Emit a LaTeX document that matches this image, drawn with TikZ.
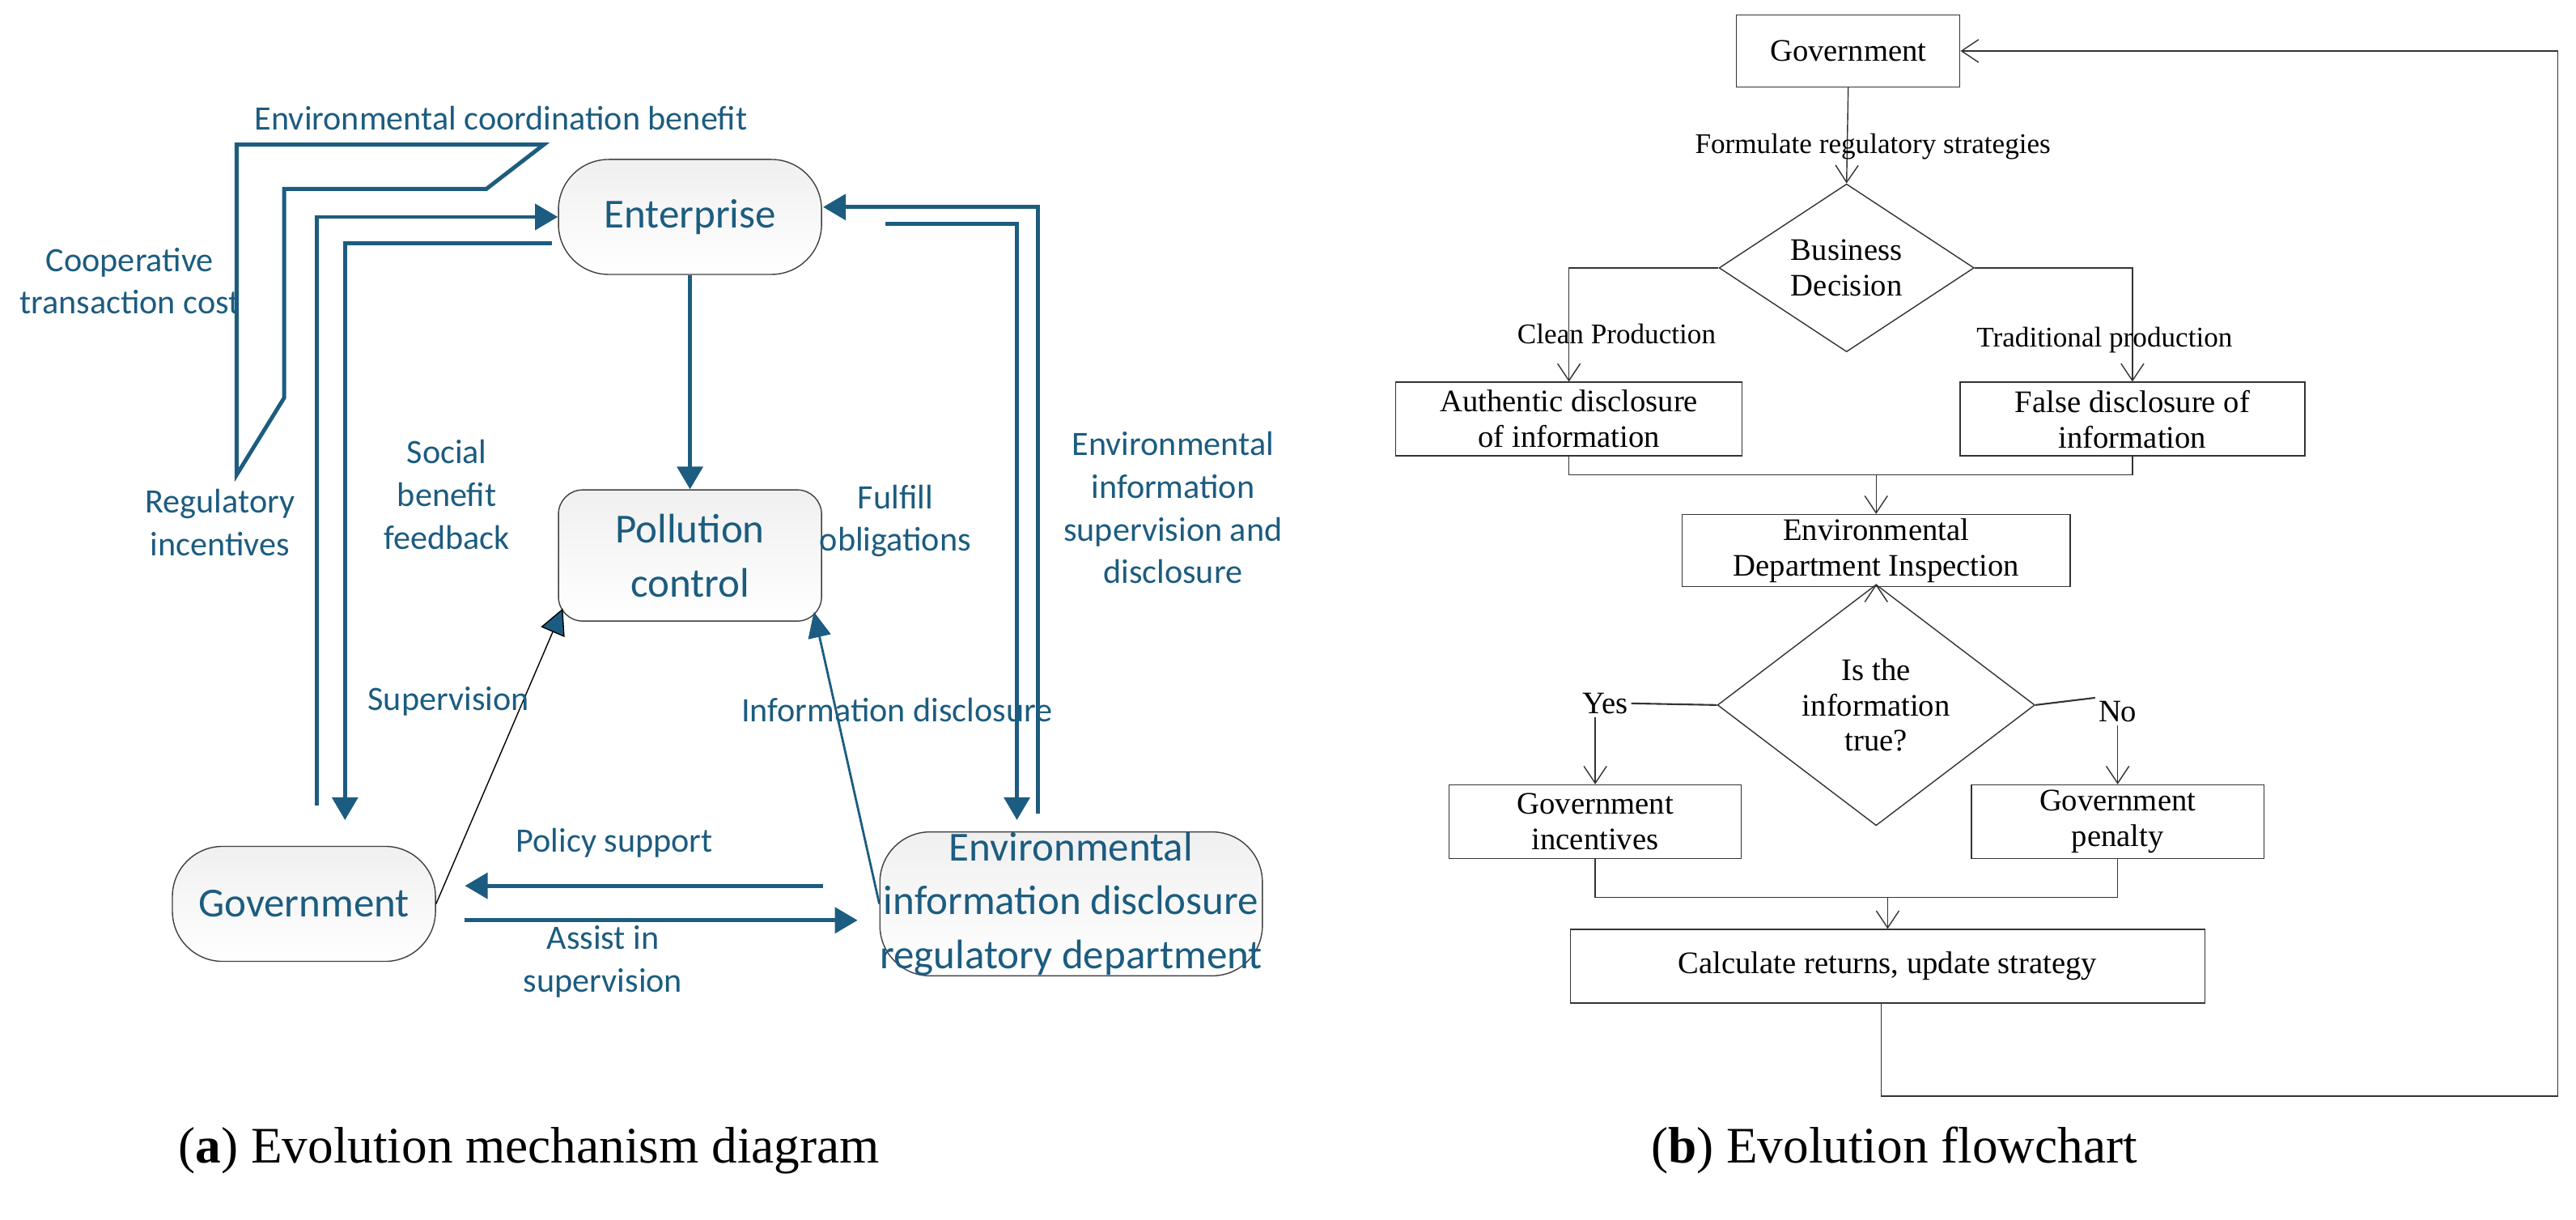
\documentclass[tikz,border=0pt]{standalone}
\usepackage{fontspec}
\setmainfont{Liberation Serif}
\newfontfamily\calfnt{Carlito}
\usetikzlibrary{shapes.geometric,arrows.meta,calc}
\definecolor{tealb}{RGB}{28,92,128}
\begin{document}
\begin{tikzpicture}[x=0.0203cm,y=-0.0203cm,
  anode/.style={draw=black!75,thin,top color=gray!12,bottom color=white,align=center,font=\calfnt\fontsize{14.5}{19}\selectfont,text=tealb,inner sep=0pt},
  stad/.style={anode,rounded corners=0.62cm,minimum height=1.42cm},
  alab/.style={font=\calfnt\fontsize{12}{15}\selectfont,text=tealb,align=center,inner sep=1pt},
  aline/.style={draw=tealb,line width=1.4pt},
  aarr/.style={aline,-{Triangle[length=8pt,width=9pt]}},
  bbox/.style={draw=black!80,thin,align=center,font=\fontsize{11}{12.5}\selectfont,inner sep=0pt,minimum height=0.91cm},
  bdia/.style={draw=black!80,thin,diamond,align=center,font=\fontsize{11}{12.5}\selectfont,inner sep=0pt},
  blab/.style={font=\fontsize{10}{12}\selectfont,inner sep=1pt},
  bline/.style={draw=black!80,thin},
  barr/.style={bline,-{Straight Barb[length=6pt,width=8pt]}},
  captxt/.style={font=\fontsize{18}{22}\selectfont}
]
\useasboundingbox (0,0) rectangle (1568,742);
% ---------------- panel a ----------------
\node[stad,minimum width=3.25cm] (en) at (420,132) {Enterprise};
\node[anode,rounded corners=0.3cm,minimum width=3.25cm,minimum height=1.62cm] (pc) at (420,338) {Pollution\\control};
\node[stad,minimum width=3.25cm] (go) at (185,550) {Government};
\node[stad,minimum width=4.36cm] (ed) at (652,550) {Environmental\\information disclosure\\regulatory department};

% big bent outline
\draw[aline] (144,289) -- (144,88) -- (331,88) -- (296,115) -- (173,115) -- (173,242) -- cycle;

\coordinate (l1) at (193,490);
\coordinate (l2) at (210,499);
\coordinate (l2s) at (336,148);
\draw[aarr] (l1) |- (en.west);
\draw[aarr] (l2s) -| (l2);
\draw[aarr] (en.south) -- (pc.north);

\coordinate (r1) at (632,495);
\coordinate (r1e) at (501,126);
\coordinate (r2s) at (539,136);
\coordinate (r2) at (619,499);
\draw[aarr] (r1) |- (r1e);
\draw[aarr] (r2s) -| (r2);

\draw[black,thin,-{Triangle[length=9pt,width=9pt,fill=tealb]}] (go.east) -- ($(pc.south west)+(3,-8)$);
\draw[draw=tealb,thick,-{Triangle[length=9pt,width=8pt]}] (ed.west) -- ($(pc.south east)+(-5,-6)$);

\coordinate (p1) at (501,539);
\coordinate (p2) at (283,539);
\coordinate (s1) at (283,560);
\coordinate (s2) at (522,560);
\draw[aarr] (p1) -- (p2);
\draw[aarr] (s1) -- (s2);

\node[alab] (t1) at (305,72) {Environmental coordination benefit};
\node[alab] (t2) at (79,171) {Cooperative\\transaction cost};
\node[alab] (t3) at (134,318) {Regulatory\\incentives};
\node[alab] (t4) at (272,301) {Social\\benefit\\feedback};
\node[alab] (t5) at (545,317) {Fulfill\\obligations};
\node[alab] (t6) at (714,309) {Environmental\\information\\supervision and\\disclosure};
\node[alab] (t7) at (273,427) {Supervision};
\node[alab] (t8) at (546,432) {Information disclosure};
\node[alab] (t9) at (374,513) {Policy support};
\node[alab] (t10) at (367,585) {Assist in\\supervision};

\node[captxt] (ca) at (322,700) {(\textbf{a}) Evolution mechanism diagram};
\node[captxt] (cb) at (1153,700) {(\textbf{b}) Evolution flowchart};

% ---------------- panel b ----------------
\node[bbox,minimum width=2.76cm,minimum height=0.89cm] (g) at (1125,31) {Government};
\node[bdia,minimum width=3.15cm,minimum height=1.58cm] (d1) at (1124,163) {Business\\Decision};
\node[bbox,minimum width=4.28cm] (au) at (955,255) {Authentic disclosure\\of information};
\node[bbox,minimum width=4.26cm] (fa) at (1298,255) {False disclosure of\\information};
\node[bbox,minimum width=4.79cm,minimum height=0.89cm] (ei) at (1142,335) {Environmental\\Department Inspection};
\node[bdia,minimum width=3.92cm,minimum height=2.15cm] (d2) at (1142,429) {Is the\\information\\true?};
\node[bbox,minimum width=3.61cm] (gi) at (971,500) {Government\\incentives};
\node[bbox,minimum width=3.61cm] (gp) at (1289,500) {Government\\penalty};
\node[bbox,minimum width=7.84cm] (ca2) at (1149,588) {Calculate returns, update strategy};

\draw[barr] (g.south) -- (d1.north);
\node[blab] (f1) at (1140,89) {Formulate regulatory strategies};
\draw[barr] (d1.west) -| (au.north);
\draw[barr] (d1.east) -| (fa.north);
\node[blab] (cp) at (984,203) {Clean Production};
\node[blab] (tp) at (1281,207) {Traditional production};

\coordinate (m1) at (1142,289);
\draw[bline] (au.south) |- (m1);
\draw[bline] (fa.south) |- (m1);
\draw[barr] (m1) -- (ei.north);
\draw[barr] (ei.south) -- (d2.north);

\node[blab,font=\fontsize{11}{12}\selectfont] (yes) at (977,428) {Yes};
\node[blab,font=\fontsize{11}{12}\selectfont] (no) at (1289,433) {No};
\draw[bline,semithick] (d2.west) -- (yes.east);
\draw[bline,semithick] (d2.east) -- (no.north west);
\draw[barr] (yes.south-|gi.north) -- (gi.north);
\draw[barr] (no.south) -- (gp.north);

\coordinate (m2) at (1149,546);
\draw[bline] (gi.south) |- (m2);
\draw[bline] (gp.south) |- (m2);
\draw[barr] (m2) -- (ca2.north);

\coordinate (fb1) at (1145,667);
\coordinate (fb2) at (1557,667);
\draw[barr] ($(ca2.south)+(-4,0)$) -- (fb1) -- (fb2) |- (g.east);
\end{tikzpicture}
\end{document}
